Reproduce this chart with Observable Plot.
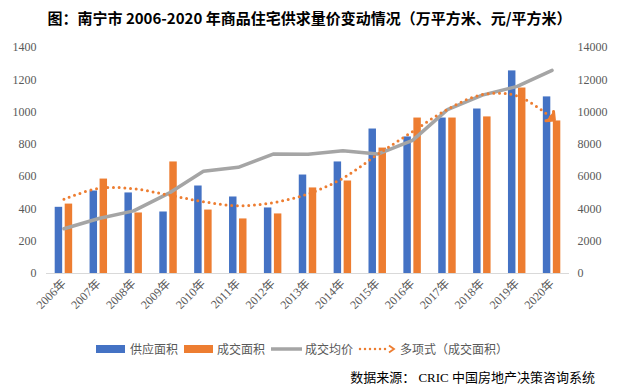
<!DOCTYPE html>
<html><head><meta charset="utf-8">
<script src="https://cdn.jsdelivr.net/npm/d3@7"></script>
<script src="https://cdn.jsdelivr.net/npm/@observablehq/plot@0.6"></script>
<style>
body{margin:0;background:#fff;width:619px;height:391px;overflow:hidden;font-family:"Noto Sans CJK SC",sans-serif;}
#title{height:35px;line-height:35px;text-align:center;font-weight:bold;font-size:15px;color:#000;white-space:nowrap;}
#chart svg marker path{stroke-dasharray:none;fill:#ED7D31;}
#legend{position:relative;height:28px;font-size:12px;color:#595959;}
#legend .it{position:absolute;top:0;height:28px;line-height:28px;white-space:nowrap;}
#legend svg{position:absolute;top:0;}
#source{height:30px;line-height:30px;text-align:right;padding-right:24px;font-size:13px;color:#000;font-family:"Liberation Serif","Noto Sans CJK SC",serif;}
</style></head>
<body>
<div id="title">图：南宁市 2006-2020 年商品住宅供求量价变动情况（万平方米、元/平方米）</div>
<div id="chart"></div>
<div id="legend"></div>
<div id="source">数据来源： CRIC 中国房地产决策咨询系统</div>
<script>
const years = ["2006年","2007年","2008年","2009年","2010年","2011年","2012年","2013年","2014年","2015年","2016年","2017年","2018年","2019年","2020年"];
const supply = [410,511,499,381,542,474,406,610,691,895,846,963,1019,1255,1094];
const sales  = [430,585,375,691,393,338,369,530,573,777,963,963,970,1149,945];
const price  = [2770,3410,3880,4960,6335,6580,7400,7385,7610,7400,8250,10150,11050,11590,12580];
const trend  = [460,528,525,486,445,420,439,493,590,738,879,1017,1108,1100,963];
const leftTicks = [0,200,400,600,800,1000,1200,1400];
const rightTicks = [0,2000,4000,6000,8000,10000,12000,14000];
const seriesNames = ["供应面积","成交面积","成交均价","多项式（成交面积）"];
const colors = ["#4472C4","#ED7D31","#A5A5A5","#ED7D31"];

const ratio = rightTicks[rightTicks.length-1] / leftTicks[leftTicks.length-1];
const rows = years.map((y,i)=>({year:y, supply:supply[i], sales:sales[i], price:price[i]/ratio, trend:trend[i]}));

const chart = Plot.plot({
  width:619, height:300, marginTop:12, marginBottom:62, marginLeft:46, marginRight:50,
  style:{fontFamily:'"Liberation Serif","Noto Sans CJK SC",serif', fontSize:"12px", color:"#595959", background:"#fff"},
  x:{type:"band", domain:years, padding:0, round:false},
  y:{domain:[0,1400]},
  marks:[
    Plot.axisY({ticks:leftTicks, anchor:"left", tickSize:0, tickPadding:10, label:null, tickFormat:d=>String(d)}),
    Plot.axisY({ticks:leftTicks, anchor:"right", tickSize:0, tickPadding:8, label:null, tickFormat:d=>String(d*ratio)}),
    Plot.axisX({tickSize:0, tickRotate:-45, tickPadding:8, label:null}),
    Plot.barY(rows,{x:"year", y:"supply", fill:colors[0], insetLeft:8.7, insetRight:18.7}),
    Plot.barY(rows,{x:"year", y:"sales", fill:colors[1], insetLeft:18.7, insetRight:8.7}),
    Plot.ruleY([0],{stroke:"#d9d9d9", strokeWidth:1.2}),
    Plot.line(rows,{x:"year", y:"price", stroke:colors[2], strokeWidth:3.5}),
    Plot.line(rows,{x:"year", y:"trend", stroke:colors[3], strokeWidth:3, strokeDasharray:"0 5.7", strokeLinecap:"round", curve:"catmull-rom", markerEnd:"arrow"})
  ]
});
document.getElementById("chart").appendChild(chart);

// legend
const leg = document.getElementById("legend");
const items = [
  {sx:96, tx:130, kind:"rect"},
  {sx:184, tx:217, kind:"rect"},
  {sx:271, tx:305, kind:"line"},
  {sx:358, tx:400, kind:"dot"}
];
items.forEach((it,i)=>{
  const ns="http://www.w3.org/2000/svg";
  const s=document.createElementNS(ns,"svg");
  s.setAttribute("width",40);s.setAttribute("height",28);
  s.style.left=it.sx+"px";
  if(it.kind==="rect"){
    const r=document.createElementNS(ns,"rect");
    r.setAttribute("x",0);r.setAttribute("y",10);r.setAttribute("width",29);r.setAttribute("height",8);r.setAttribute("fill",colors[i]);s.appendChild(r);
  } else if(it.kind==="line"){
    const l=document.createElementNS(ns,"line");
    l.setAttribute("x1",0);l.setAttribute("x2",31);l.setAttribute("y1",14);l.setAttribute("y2",14);l.setAttribute("stroke",colors[i]);l.setAttribute("stroke-width",3.5);s.appendChild(l);
  } else {
    const l=document.createElementNS(ns,"line");
    l.setAttribute("x1",2);l.setAttribute("x2",30);l.setAttribute("y1",14);l.setAttribute("y2",14);l.setAttribute("stroke",colors[i]);l.setAttribute("stroke-width",2.5);l.setAttribute("stroke-dasharray","0 5");l.setAttribute("stroke-linecap","round");s.appendChild(l);
    const p=document.createElementNS(ns,"path");
    p.setAttribute("d","M31,10.5L36,14L31,17.5");p.setAttribute("fill","none");p.setAttribute("stroke",colors[i]);p.setAttribute("stroke-width",1.8);s.appendChild(p);
  }
  leg.appendChild(s);
  const t=document.createElement("div");t.className="it";t.style.left=it.tx+"px";t.textContent=seriesNames[i];leg.appendChild(t);
});
</script>
</body></html>
